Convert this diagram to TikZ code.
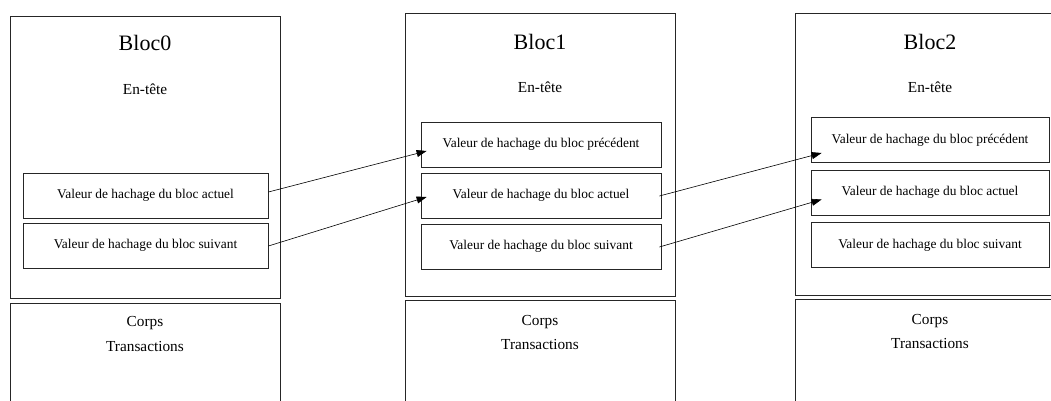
\documentclass[tikz,border=0pt]{standalone}
\usepackage{fontspec}
\setmainfont{Liberation Serif}
\usetikzlibrary{positioning,arrows.meta}

\begin{document}
\begin{tikzpicture}[x=1pt, y=-1pt, node distance=51pt,
    blocbox/.style={shape=rectangle, draw, color=black!85, line width=0.8pt, minimum width=270pt, inner sep=0pt},
    hashbox/.style={shape=rectangle, draw, color=black!85, text=black, line width=0.8pt, minimum height=45pt, minimum width=240pt, inner sep=0pt, font=\fontsize{13.4}{15}\selectfont},
    titletext/.style={font=\fontsize{22}{25}\selectfont},
    parttext/.style={font=\fontsize{15.3}{17}\selectfont},
    hasharrow/.style={-{Triangle[length=10pt,width=7pt]}, line width=0.6pt}]
    \path[use as bounding box, clip] (0,0) rectangle (1051,401);
    % Bloc0
    \begin{scope}
        \node[blocbox, minimum height=282pt] (B0header) at (145,157) {};
        \node[blocbox, minimum height=110pt] (B0body) at (145,358) {};
        \node[titletext] (B0title) at (145,43) {Bloc0};
        \node[parttext] (B0entete) at (145,89) {En-tête};
        \node[hashbox, minimum width=245pt] (B0current) at (145.5,195.5) {Valeur de hachage du bloc actuel};
        \node[hashbox, minimum width=245pt, node distance=50pt] (B0next) [below of = B0current] {Valeur de hachage du bloc suivant};
        \node[parttext] (B0corps) at (145,323) {Corps};
        \node[parttext] (B0trans) at (145,347) {Transactions};
    \end{scope}
    % Bloc1
    \begin{scope}
        \node[blocbox, minimum height=283pt] (B1header) at (540,154.5) {};
        \node[blocbox, minimum height=110pt] (B1body) at (540,355) {};
        \node[titletext] (B1title) at (540,42) {Bloc1};
        \node[parttext] (B1entete) at (540,87) {En-tête};
        \node[hashbox] (B1prev) at (541,144.5) {Valeur de hachage du bloc précédent};
        \node[hashbox] (B1current) [below of = B1prev] {Valeur de hachage du bloc actuel};
        \node[hashbox] (B1next) [below of = B1current] {Valeur de hachage du bloc suivant};
        \node[parttext] (B1corps) at (540,322) {Corps};
        \node[parttext] (B1trans) at (540,345) {Transactions};
    \end{scope}
    % Bloc2
    \begin{scope}[node distance=52.5pt]
        \node[blocbox, minimum height=282pt] (B2header) at (930,154) {};
        \node[blocbox, minimum height=110pt] (B2body) at (930,354) {};
        \node[titletext] (B2title) at (930,42) {Bloc2};
        \node[parttext] (B2entete) at (930,87) {En-tête};
        \node[hashbox, minimum width=238pt] (B2prev) at (930,140) {Valeur de hachage du bloc précédent};
        \node[hashbox, minimum width=238pt] (B2current) [below of = B2prev] {Valeur de hachage du bloc actuel};
        \node[hashbox, minimum width=238pt] (B2next) [below of = B2current] {Valeur de hachage du bloc suivant};
        \node[parttext] (B2corps) at (930,321) {Corps};
        \node[parttext] (B2trans) at (930,344) {Transactions};
    \end{scope}
    \draw[hasharrow] ([yshift=3.5pt]B0current.east) to ([xshift=6pt, yshift=-6.5pt]B1prev.west);
    \draw[hasharrow] ([yshift=-0.5pt]B0next.east) to ([xshift=6pt, yshift=-1.5pt]B1current.west);
    \draw[hasharrow] ([xshift=-2pt, yshift=-0.5pt]B1current.east) to ([xshift=11pt, yshift=-13pt]B2prev.west);
    \draw[hasharrow] ([xshift=-2pt, yshift=-0.5pt]B1next.east) to ([xshift=11pt, yshift=-7pt]B2current.west);
\end{tikzpicture}
\end{document}
